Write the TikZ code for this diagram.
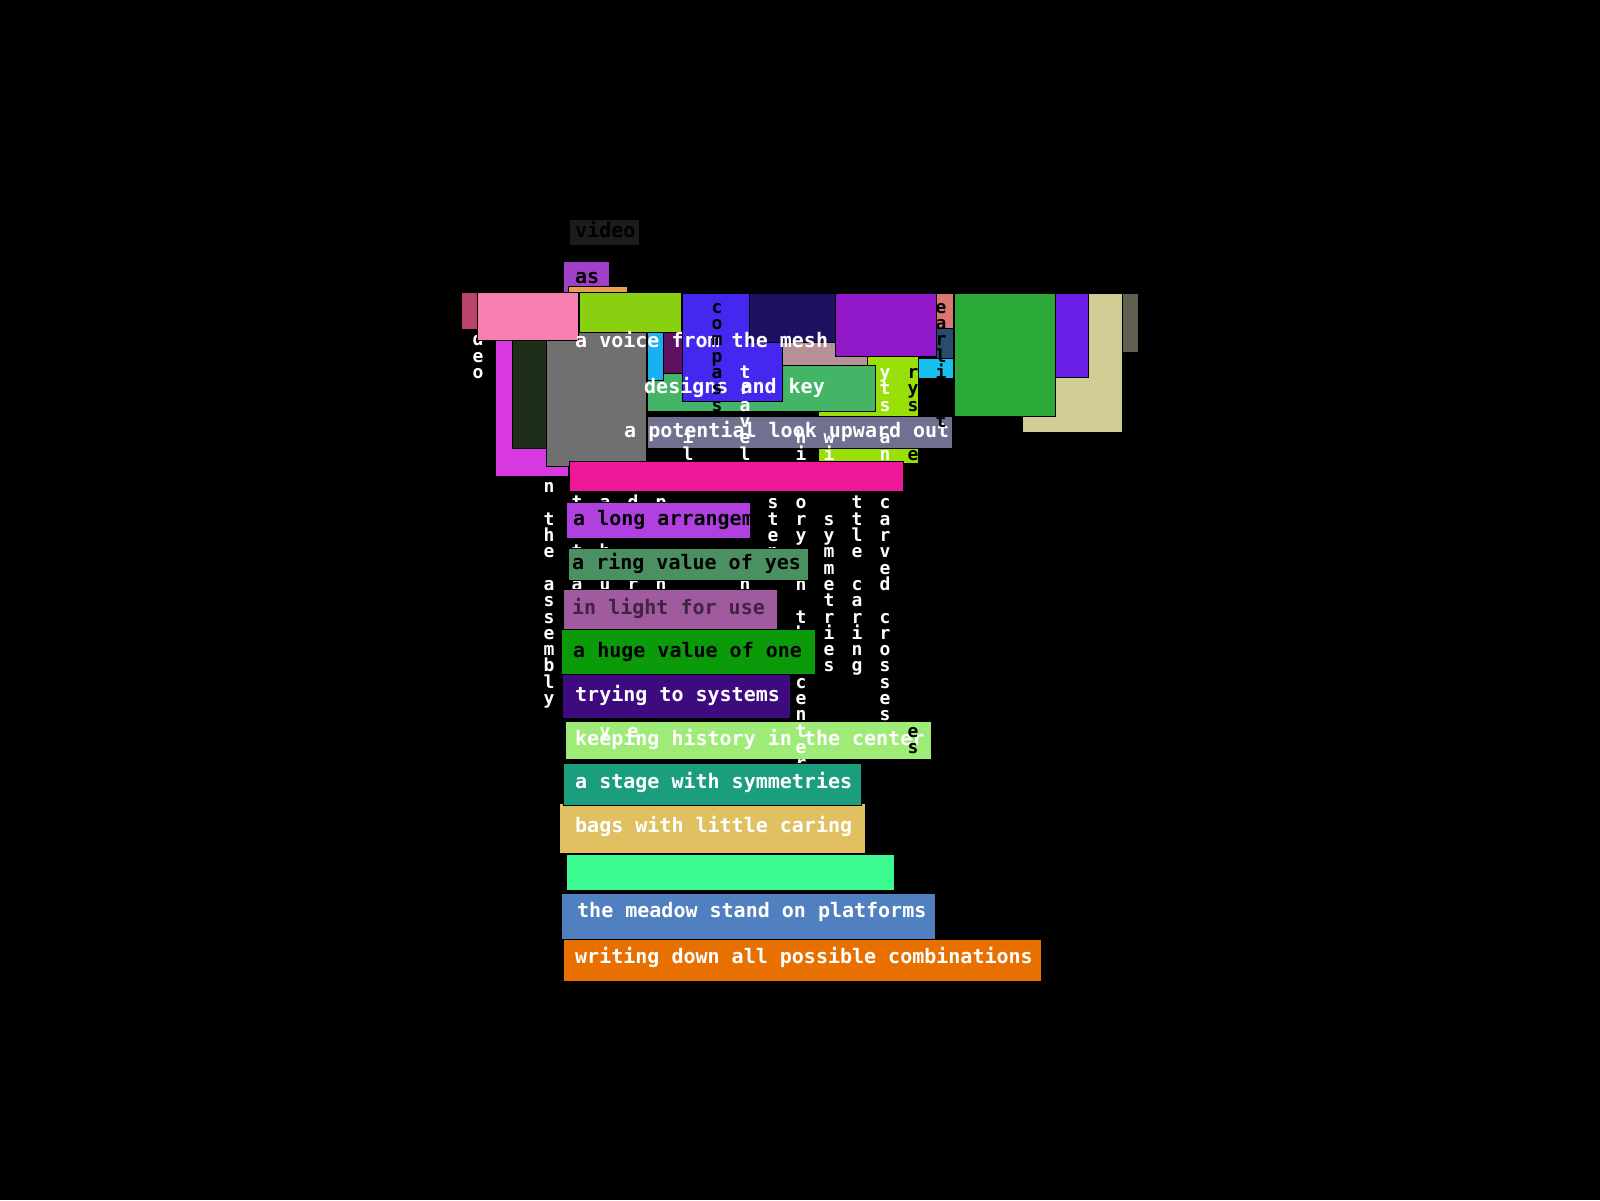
\documentclass[tikz,border=0pt]{standalone}
\usepackage{fontspec}
\newfontfamily\pix{DejaVu Sans Mono}
\definecolor{cVideo}{HTML}{1C1C1C}
\definecolor{cAs}{HTML}{A040C8}
\definecolor{cOrStrip}{HTML}{E8A050}
\definecolor{cKhaki}{HTML}{D0CC94}
\definecolor{cOlive}{HTML}{606050}
\definecolor{cViolB}{HTML}{6A1EE8}
\definecolor{cBigGreen}{HTML}{2AA838}
\definecolor{cSalmon}{HTML}{D87870}
\definecolor{cDkBlue}{HTML}{2A4A70}
\definecolor{cCyanB}{HTML}{18C0F0}
\definecolor{cLimeB}{HTML}{98E008}
\definecolor{cRosy}{HTML}{B89098}
\definecolor{cMedGreen}{HTML}{44B466}
\definecolor{cDkRose}{HTML}{B84468}
\definecolor{cMagenta}{HTML}{D838E0}
\definecolor{cDkGreen}{HTML}{1E2E18}
\definecolor{cGrey}{HTML}{707070}
\definecolor{cCyan}{HTML}{18B0F0}
\definecolor{cDkPurple}{HTML}{601060}
\definecolor{cPink}{HTML}{F880B0}
\definecolor{cLime}{HTML}{88D010}
\definecolor{cBlue}{HTML}{4428F0}
\definecolor{cNavy}{HTML}{201060}
\definecolor{cPurple}{HTML}{9018C8}
\definecolor{cLavender}{HTML}{707090}
\definecolor{cLtGreen}{HTML}{9EEB78}
\definecolor{cGold}{HTML}{E0C060}
\definecolor{cTeal}{HTML}{1A9E7E}
\definecolor{cMint}{HTML}{3AFA90}
\definecolor{cSteel}{HTML}{5080C0}
\definecolor{cOrange}{HTML}{E87000}
\definecolor{cHotPink}{HTML}{F0189A}
\definecolor{cViolet}{HTML}{B040E0}
\definecolor{cSeaGreen}{HTML}{4A9060}
\definecolor{cMauve}{HTML}{A05AA0}
\definecolor{cGreen}{HTML}{0A9A0A}
\definecolor{cIndigo}{HTML}{3D0A80}
\newcommand\bxr[5]{\path[bx,fill=#5] (#1,#2) rectangle (#3,#4);}
\newcommand\vcol[4]{%
  \foreach \ch [count=\k from #2] in {#4} {%
    \node[vletter,text=#3] at (#1,{455+16.3*\k+5}) {\ch};}}
\begin{document}
\begin{tikzpicture}[x=1pt,y=-1pt,
  bx/.style={draw=black,line width=1pt},
  htext/.style={font=\pix\bfseries\fontsize{20}{20}\selectfont,inner sep=0pt,anchor=base west},
  vletter/.style={font=\pix\bfseries\fontsize{18}{18}\selectfont,inner sep=0pt,anchor=base}]
\fill[black] (0,0) rectangle (1600,1200);
\useasboundingbox (0,0) rectangle (1600,1200);
% columns lying under the upper boxes
\vcol{478}{-9}{white}{v,i,d,e,o}
\vcol{549}{1}{white}{i,n,~,t,h,e,~,a,s,s,e,m,b,l,y}
% small boxes above
\bxr{569}{219}{639}{245}{cVideo}
\node[htext,text=black] (tvideo) at (575,237) {video};
\bxr{563}{261}{609}{293}{cAs}
\node[htext,text=black] (tas) at (575,283) {as};
\bxr{568}{286}{627}{296}{cOrStrip}
% upper cluster
\bxr{1022}{293}{1122}{432}{cKhaki}
\bxr{1122}{293}{1138}{352}{cOlive}
\bxr{1055}{293}{1088}{377}{cViolB}
\bxr{954}{293}{1055}{416}{cBigGreen}
\bxr{936}{293}{953}{328}{cSalmon}
\bxr{936}{328}{953}{358}{cDkBlue}
\bxr{918}{358}{953}{378}{cCyanB}
\bxr{818}{356}{918}{463}{cLimeB}
\bxr{760}{320}{867}{366}{cRosy}
\bxr{647}{365}{875}{411}{cMedGreen}
\bxr{461}{292}{477}{329}{cDkRose}
\bxr{495}{340}{568}{476}{cMagenta}
\bxr{512}{340}{556}{448}{cDkGreen}
\bxr{546}{331}{646}{466}{cGrey}
\bxr{647}{331}{663}{380}{cCyan}
\bxr{663}{331}{682}{373}{cDkPurple}
\bxr{477}{292}{578}{340}{cPink}
\bxr{579}{292}{681}{332}{cLime}
\bxr{682}{293}{782}{401}{cBlue}
\bxr{749}{293}{835}{342}{cNavy}
\bxr{835}{293}{936}{356}{cPurple}
\bxr{647}{416}{952}{448}{cLavender}
% texts of the upper cluster
\node[htext,text=white] (tmesh) at (575,347) {a voice from the mesh};
\node[htext,text=white] (tkey) at (644,393) {designs and key};
\node[htext,text=white] (tlook) at (624,437) {a potential look upward out};
% lower boxes, first group
\bxr{565}{721}{931}{759}{cLtGreen}
\node[htext,text=white] (tkeep) at (575,745) {keeping history in the center};
% vertical columns
\vcol{717}{-9}{black}{c,o,m,p,a,s,s}
\vcol{941}{-9}{black}{e,a,r,l,i,e,s,t}
\vcol{913}{-5}{black}{r,y,s,~,~,e}
\vcol{913}{17}{black}{e,s}
\vcol{745}{-5}{white}{t,r,a,v,e,l,~,~,~,~,~,~,~,n}
\vcol{688}{-1}{white}{i,l}
\vcol{661}{3}{white}{p,~,~,~,~,n}
\vcol{633}{3}{white}{d,~,~,~,~,r,~,~,~,~,~,~,~,~,e}
\vcol{605}{3}{white}{a,~,~,b,~,u,~,~,~,~,~,~,~,~,y}
\vcol{577}{3}{white}{t,~,~,t,~,a}
\vcol{773}{3}{white}{s,t,e,p,s}
\vcol{801}{-1}{white}{h,i,s,t,o,r,y,~,i,n,~,t,h,e,~,c,e,n,t,e,r}
\vcol{829}{-1}{white}{w,i,t,h,~,s,y,m,m,e,t,r,i,e,s}
\vcol{857}{0}{white}{~,l,i,t,t,l,e,~,c,a,r,i,n,g}
\vcol{885}{-5}{white}{y,t,s,~,a,n,d,~,c,a,r,v,e,d,~,c,r,o,s,s,e,s}
% lower boxes, second group
\bxr{559}{803}{865}{853}{cGold}
\node[htext,text=white] (tbags) at (575,832) {bags with little caring};
\bxr{563}{763}{861}{805}{cTeal}
\node[htext,text=white] (tstage) at (575,788) {a stage with symmetries};
\bxr{566}{854}{894}{890}{cMint}
\bxr{561}{893}{935}{939}{cSteel}
\node[htext,text=white] (tplat) at (577,917) {the meadow stand on platforms};
\bxr{563}{939}{1041}{981}{cOrange}
\node[htext,text=white] (twrite) at (575,963) {writing down all possible combinations};
\bxr{569}{461}{903}{491}{cHotPink}
\bxr{566}{502}{750}{538}{cViolet}
\begin{scope}
  \clip (566,502) rectangle (750,538);
  \node[htext,text=black] (tlong) at (573,525) {a long arrangement};
\end{scope}
\bxr{568}{548}{808}{580}{cSeaGreen}
\node[htext,text=black] (tring) at (572,569) {a ring value of yes};
\bxr{563}{589}{777}{629}{cMauve}
\node[htext,text=black,opacity=0.6] (tlight) at (572,614) {in light for use};
\bxr{561}{629}{815}{674}{cGreen}
\node[htext,text=black] (thuge) at (573,657) {a huge value of one};
\bxr{562}{674}{790}{718}{cIndigo}
\node[htext,text=white] (ttry) at (575,701) {trying to systems};
\end{tikzpicture}
\end{document}
